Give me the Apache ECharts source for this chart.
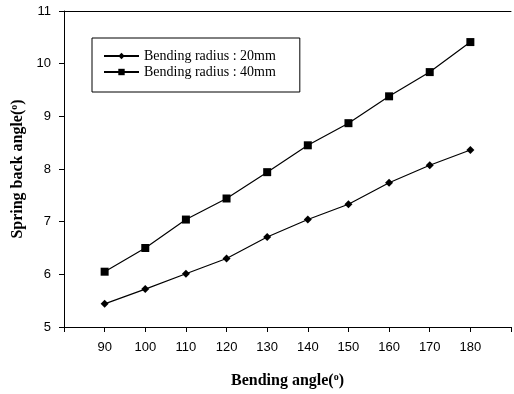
<!DOCTYPE html>
<html>
<head>
<meta charset="utf-8">
<script src="https://cdn.jsdelivr.net/npm/echarts@6/dist/echarts.min.js"></script>
<style>
html,body{margin:0;padding:0;background:#fff;}
#c{width:514px;height:394px;}
</style>
</head>
<body>
<div id="c"></div>
<script>
var angles = [90, 100, 110, 120, 130, 140, 150, 160, 170, 180];
var radius20 = [5.44, 5.72, 6.01, 6.30, 6.71, 7.04, 7.33, 7.74, 8.07, 8.36];
var radius40 = [6.05, 6.50, 7.04, 7.44, 7.94, 8.45, 8.87, 9.38, 9.84, 10.41];
var seriesNames = ['Bending radius : 20mm', 'Bending radius : 40mm'];
var yTicks = [5, 6, 7, 8, 9, 10, 11];

function pairs(vals) { return angles.map(function (a, i) { return [a, vals[i]]; }); }

var chart = echarts.init(document.getElementById('c'));
var serif = '"Liberation Serif", "Times New Roman", serif';
var sans = '"Liberation Sans", Arial, sans-serif';
chart.setOption({
  animation: false,
  backgroundColor: '#fff',
  grid: { left: 64, right: 0, top: 11, bottom: 67 },
  legend: {
    orient: 'vertical',
    left: 92, top: 38,
    padding: [11, 24, 13, 11],
    borderColor: '#000', borderWidth: 1,
    itemWidth: 35, itemHeight: 8, itemGap: 2,
    textStyle: { fontFamily: serif, fontSize: 14, color: '#000' },
    data: seriesNames
  },
  xAxis: [{
    type: 'value', min: 80, max: 190, interval: 10,
    name: '{a|Bending angle(}{s|o}{a|)}',
    nameLocation: 'middle', nameGap: 45,
    nameTextStyle: {
      rich: {
        a: { fontFamily: serif, fontSize: 16, fontWeight: 'bold', color: '#000' },
        s: { fontFamily: serif, fontSize: 10, fontWeight: 'bold', color: '#000', verticalAlign: 'top', padding: [0, 0, 7, 0] }
      }
    },
    axisLine: { lineStyle: { color: '#000', width: 1 } },
    axisTick: { show: true, inside: false, length: 5, lineStyle: { color: '#000' } },
    axisLabel: {
      color: '#000', fontFamily: sans, fontSize: 13, margin: 14,
      formatter: function (v) { return angles.indexOf(v) >= 0 ? String(v) : ''; }
    },
    splitLine: { show: false }
  }, {
    type: 'value', position: 'top', min: 80, max: 190,
    axisLine: { show: true, lineStyle: { color: '#000', width: 1 } },
    axisTick: { show: false }, axisLabel: { show: false }, splitLine: { show: false }
  }],
  yAxis: {
    type: 'value', min: 5, max: 11, interval: 1,
    name: '{a|Spring back angle(}{s|o}{a|)}',
    nameLocation: 'middle', nameGap: 29, nameRotate: 90,
    nameTextStyle: {
      rich: {
        a: { fontFamily: serif, fontSize: 16, fontWeight: 'bold', color: '#000' },
        s: { fontFamily: serif, fontSize: 10, fontWeight: 'bold', color: '#000', verticalAlign: 'top', padding: [0, 0, 7, 0] }
      }
    },
    axisLine: { show: true, lineStyle: { color: '#000', width: 1 } },
    axisTick: { show: true, inside: false, length: 5, lineStyle: { color: '#000' } },
    axisLabel: {
      color: '#000', fontFamily: sans, fontSize: 13, margin: 13,
      formatter: function (v) { return yTicks.indexOf(v) >= 0 ? String(v) : ''; }
    },
    splitLine: { show: false }
  },
  series: [{
    name: seriesNames[0], type: 'line', data: pairs(radius20),
    symbol: 'diamond', symbolSize: 8,
    lineStyle: { color: '#000', width: 1.2 },
    itemStyle: { color: '#000' }
  }, {
    name: seriesNames[1], type: 'line', data: pairs(radius40),
    symbol: 'rect', symbolSize: 8,
    lineStyle: { color: '#000', width: 1.2 },
    itemStyle: { color: '#000' }
  }]
});
</script>
</body>
</html>
